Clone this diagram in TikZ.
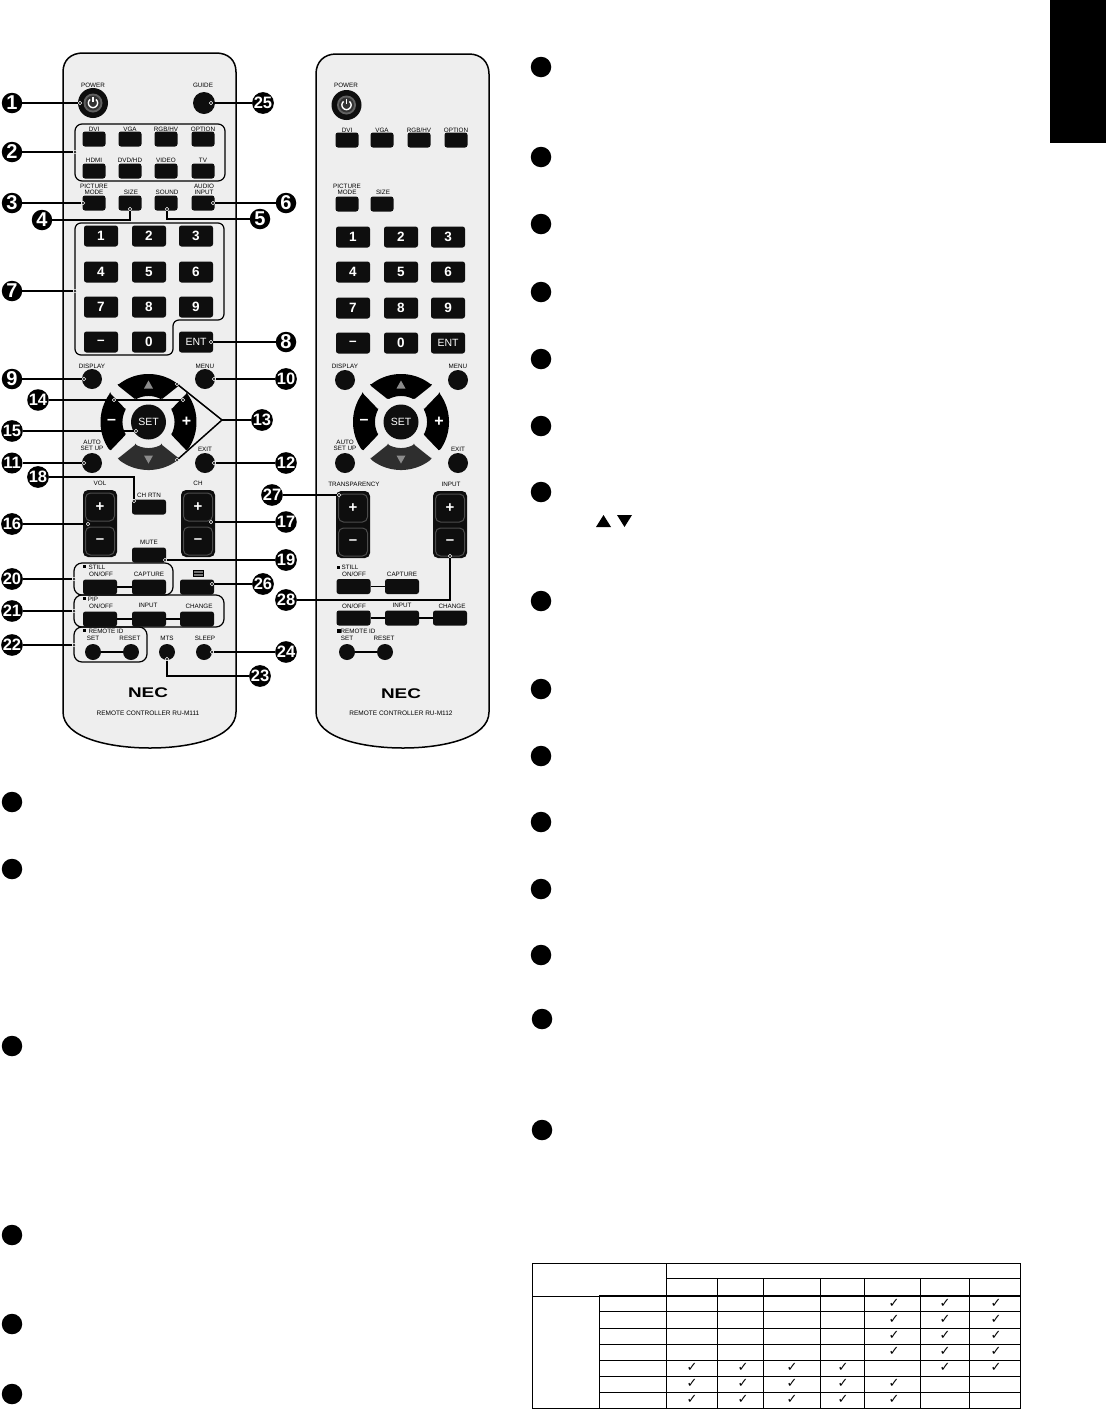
\documentclass[tikz,border=0pt]{standalone}
\usepackage{fontspec}
\setmainfont{Liberation Sans}
\newfontfamily\chkfont{DejaVu Sans}
\newcount\lbn
\newcount\bln
\newcount\ckn
\definecolor{bodyg}{HTML}{EEEEEE}
\definecolor{btnk}{HTML}{0E0E0E}
\tikzset{
  x=1pt,y=-1pt,
  remote/.style={draw=black,line width=1.5pt,fill=bodyg},
  grp/.style={draw=black,line width=1.2pt,rounded corners=8pt},
  lbl/.style={inner sep=0pt,font=\fontsize{6.3}{6.3}\selectfont,text=black},
  keybase/.style={fill=btnk,rounded corners=2.5pt,inner sep=0pt,text=white,font=\bfseries\fontsize{13.5}{13.5}\selectfont},
  sbtn/.style={keybase,minimum width=23pt,minimum height=15pt},
  nbtn/.style={keybase,minimum width=34pt,minimum height=21pt},
  wbtn/.style={keybase,minimum width=34pt,minimum height=15pt},
  rbtn/.style={circle,fill=btnk,inner sep=0pt,minimum size=#1},
  rbtn/.default=20pt,
  rocker/.style={fill=btnk,rounded corners=5pt,inner sep=0pt,minimum width=34pt,minimum height=67pt},
  rockin/.style={draw=black!70,line width=1pt,rounded corners=5pt,inner sep=0pt,minimum width=29pt,minimum height=28pt,text=white,font=\bfseries\fontsize{15}{15}\selectfont},
  call/.style={circle,fill=black,inner sep=0pt,minimum size=20.5pt,text=white,font=\bfseries\fontsize{20}{20}\selectfont},
  calltwo/.style={circle,fill=black,inner sep=0pt,minimum size=21pt,text=white,font=\bfseries\fontsize{16.5}{16.5}\selectfont},
  blank/.style={circle,fill=black,inner sep=0pt,minimum size=20.5pt},
  tipdot/.style={circle,fill=black,draw=white,line width=.5pt,inner sep=0pt,minimum size=3.5pt},
  conn/.style={draw=black,line width=1.5pt},
  link/.style={draw=black,line width=1.3pt},
  tick/.style={inner sep=0pt,font=\chkfont\fontsize{13}{13}\selectfont},
  sign/.style={inner sep=0pt,text=white,font=\bfseries\fontsize{16}{16}\selectfont},
  rule/.style={draw=black,line width=.8pt},
}
\newcommand\lb[3]{\global\advance\lbn 1 \node[lbl] (t\the\lbn) at (#1,#2) {#3};}
\newcommand\bl[2]{\global\advance\bln 1 \node[blank] (b\the\bln) at (#1,#2) {};}
\newcommand\ck[2]{\global\advance\ckn 1 \node[tick] (k\the\ckn) at (#1,#2) {✓};}
\newcommand\co[4]{\node[call] (c#1) at (#2,#3) {#4};}
\newcommand\ct[4]{\node[calltwo] (c#1) at (#2,#3) {#4};}
\newcommand\ds[3]{\node[tipdot] (#1) at (#2,#3) {};}
% sector: centre x, y, outer from/to, inner to/from, fill
\newcommand\sector[7]{\fill[#7,rounded corners=1pt] plot[smooth,domain=#3:#4,samples=16] ({#1+48*cos(\x)},{#2-48*sin(\x)}) -- plot[smooth,domain=#5:#6,samples=12] ({#1+26*cos(\x)},{#2-26*sin(\x)}) -- cycle;}
\newcommand\dpad[3]{%
 \sector{#1}{#2}{50}{130}{120}{60}{black}
 \sector{#1}{#2}{143}{217}{209}{151}{black}
 \sector{#1}{#2}{230}{310}{300}{240}{black!82}
 \sector{#1}{#2}{-37}{37}{29}{-29}{black}
 \fill[black!45] (#1,#2-41.5) -- (#1+4.5,#2-33.5) -- (#1-4.5,#2-33.5) -- cycle;
 \fill[black!45] (#1,#2+41.5) -- (#1+4.5,#2+33.5) -- (#1-4.5,#2+33.5) -- cycle;
 \node[rbtn=35pt,text=white,font=\fontsize{10.5}{10.5}\selectfont] (#3set) at (#1,#2) {SET};
 \node[sign] (#3minus) at (#1-37,#2) {--};
 \node[sign] (#3plus) at (#1+38,#2) {+};
}
\newcommand\powerbtn[3]{%
 \node[rbtn=30pt] (#3) at (#1,#2) {};
 \fill[black!62] (#1,#2) circle[radius=9.5];
 \fill[black!80] (#1,#2) circle[radius=7.5];
 \draw[white,line width=1.4pt] plot[smooth,domain=-50:230,samples=20] ({#1+4.6*cos(\x)},{#2+4.6*sin(\x+180)*-1});
 \draw[white,line width=1.4pt] (#1,#2-6.5) -- (#1,#2-1);
}
\begin{document}
\begin{tikzpicture}
\useasboundingbox (0,0) rectangle (1106,1409);
\fill[white] (0,0) rectangle (1106,1409);
\fill[black] (1050,0) rectangle (1106,143);
% ---------- remote bodies
\draw[remote] (63,72) .. controls (63,60) and (71,53) .. (83,53) -- (216,53) .. controls (228,53) and (236,60) .. (236,72) -- (236,712) .. controls (236,738) and (190,748) .. (150,748) .. controls (110,748) and (63,738) .. (63,712) -- cycle;
\draw[remote] (316,74) .. controls (316,62) and (324,54) .. (336,54) -- (469,54) .. controls (481,54) and (489,62) .. (489,74) -- (489,712) .. controls (489,738) and (443,748) .. (403,748) .. controls (363,748) and (316,738) .. (316,712) -- cycle;
% ---------- left remote: groups
\draw[grp,rounded corners=7pt] (75,124) rectangle (225,181);
\draw[grp,rounded corners=6pt] (75,223) -- (224,223) -- (224,320) -- (173,320) -- (173,355) -- (75,355) -- cycle;
\draw[grp] (74,563) -- (173,563) -- (173,595) -- (74,595) -- cycle;
\draw[grp] (74,595) -- (224,595) -- (224,627) -- (74,627) -- cycle;
\draw[grp] (74,627) -- (147,627) -- (147,662) -- (74,662) -- cycle;
% ---------- left remote: keys
\powerbtn{93}{103}{lpower}
\node[rbtn=22pt] (lguide) at (204,103) {};
\lb{93}{85}{POWER}\lb{203}{85}{GUIDE}
\node[sbtn] (ldvi) at (94,139) {};\node[sbtn] (lvga) at (130,139) {};\node[sbtn] (lrgb) at (166,139) {};\node[sbtn] (lopt) at (203,139) {};
\lb{94}{129}{DVI}\lb{130}{129}{VGA}\lb{166}{129}{RGB/HV}\lb{203}{129}{OPTION}
\node[sbtn] (lhdmi) at (94,171) {};\node[sbtn] (ldvd) at (130,171) {};\node[sbtn] (lvid) at (166,171) {};\node[sbtn] (ltv) at (203,171) {};
\lb{94}{160}{HDMI}\lb{130}{160}{DVD/HD}\lb{166}{160}{VIDEO}\lb{203}{160}{TV}
\node[sbtn] (lpic) at (94,203) {};\node[sbtn] (lsize) at (130,203) {};\node[sbtn] (lsound) at (166,203) {};\node[sbtn] (laud) at (203,203) {};
\lb{94}{186}{PICTURE}\lb{94}{192}{MODE}\lb{131}{192}{SIZE}\lb{167}{192}{SOUND}\lb{204}{186}{AUDIO}\lb{204}{192}{INPUT}
\node[nbtn] (ln1) at (101,236) {1};\node[nbtn] (ln2) at (149,236) {2};\node[nbtn] (ln3) at (196,236) {3};
\node[nbtn] (ln4) at (101,272) {4};\node[nbtn] (ln5) at (149,272) {5};\node[nbtn] (ln6) at (196,272) {6};
\node[nbtn] (ln7) at (101,307) {7};\node[nbtn] (ln8) at (149,307) {8};\node[nbtn] (ln9) at (196,307) {9};
\node[nbtn] (lnm) at (101,342) {--};\node[nbtn] (ln0) at (149,342) {0};
\node[nbtn,font=\fontsize{10.5}{10.5}\selectfont] (lent) at (196,342) {ENT};
\node[rbtn] (ldisp) at (92,379) {};\node[rbtn] (lmenu) at (205,379) {};\node[rbtn] (lauto) at (92,463) {};\node[rbtn] (lexit) at (205,463) {};
\lb{92}{366}{DISPLAY}\lb{205}{366}{MENU}\lb{92}{442}{AUTO}\lb{92}{448}{SET UP}\lb{205}{449}{EXIT}
\dpad{148.5}{422}{l}
\node[wbtn] (lchrtn) at (149,507) {};\lb{149}{495}{CH RTN}
\node[rocker] (lvol) at (100,523.5) {};\node[rockin] (lvolp) at (100,507) {+};\node[rockin] (lvolm) at (100,541) {--};
\node[rocker] (lch) at (198,523.5) {};\node[rockin] (lchp) at (198,507) {+};\node[rockin] (lchm) at (198,541) {--};
\lb{100}{483}{VOL}\lb{198}{483}{CH}
\node[wbtn] (lmute) at (149,555) {};\lb{149}{542}{MUTE}
\fill[black] (82.5,565) rectangle (85.5,568);\lb{97}{567}{STILL}\lb{101}{574}{ON/OFF}\lb{149}{574}{CAPTURE}
\node[wbtn] (lstill) at (100,587) {};\node[wbtn] (lcap) at (149,587) {};\draw[link] (lstill) -- (lcap);
\fill[black!55,draw=black,line width=.8pt] (193,570) rectangle (203,576);\draw[black,line width=.6pt] (193,573) -- (203,573);
\node[wbtn] (ltele) at (197,587) {};
\fill[black] (82.5,597) rectangle (85.5,600);\lb{93}{599}{PIP}\lb{101}{606}{ON/OFF}\lb{148}{605}{INPUT}\lb{199}{606}{CHANGE}
\node[wbtn] (lpip) at (100,619) {};\node[wbtn] (linp) at (149,619) {};\node[wbtn] (lchg) at (197,619) {};\draw[link] (lpip) -- (linp) -- (lchg);
\fill[black] (82.5,629) rectangle (85.5,632);\lb{106}{631}{REMOTE ID}\lb{93}{638}{SET}\lb{130}{638}{RESET}
\node[rbtn=16pt] (lset) at (93,652) {};\node[rbtn=16pt] (lrst) at (131,652) {};\draw[link] (lset) -- (lrst);
\node[rbtn=16pt] (lmts) at (167,652) {};\node[rbtn=16pt] (lslp) at (204,652) {};
\lb{167}{638}{MTS}\lb{205}{638}{SLEEP}
\node[inner sep=0pt,font=\bfseries\fontsize{14}{14}\selectfont,xscale=1.35] (lnec) at (148,693) {NEC};
\node[lbl,font=\fontsize{6.5}{6.5}\selectfont] (lmodel) at (148,713) {REMOTE CONTROLLER RU-M111};
% ---------- right remote: keys
\powerbtn{346.5}{105}{rpower}\lb{346}{85}{POWER}
\node[sbtn] (rdvi) at (347,140) {};\node[sbtn] (rvga) at (382,140) {};\node[sbtn] (rrgb) at (419,140) {};\node[sbtn] (ropt) at (456,140) {};
\lb{347}{130}{DVI}\lb{382}{130}{VGA}\lb{419}{130}{RGB/HV}\lb{456}{130}{OPTION}
\node[sbtn] (rpic) at (347,204) {};\node[sbtn] (rsize) at (382,204) {};
\lb{347}{186}{PICTURE}\lb{347}{192}{MODE}\lb{383}{192}{SIZE}
\node[nbtn] (rn1) at (353,237) {1};\node[nbtn] (rn2) at (401,237) {2};\node[nbtn] (rn3) at (448,237) {3};
\node[nbtn] (rn4) at (353,272) {4};\node[nbtn] (rn5) at (401,272) {5};\node[nbtn] (rn6) at (448,272) {6};
\node[nbtn] (rn7) at (353,308) {7};\node[nbtn] (rn8) at (401,308) {8};\node[nbtn] (rn9) at (448,308) {9};
\node[nbtn] (rnm) at (353,343) {--};\node[nbtn] (rn0) at (401,343) {0};
\node[nbtn,font=\fontsize{10.5}{10.5}\selectfont] (rent) at (448,343) {ENT};
\node[rbtn] (rdisp) at (345,380) {};\node[rbtn] (rmenu) at (458,380) {};\node[rbtn] (rauto) at (345,463) {};\node[rbtn] (rexit) at (458,463) {};
\lb{345}{366}{DISPLAY}\lb{458}{366}{MENU}\lb{345}{442}{AUTO}\lb{345}{448}{SET UP}\lb{458}{449}{EXIT}
\dpad{401}{422}{r}
\node[rocker] (rtr) at (353,524.5) {};\node[rockin] (rtrp) at (353,508) {+};\node[rockin] (rtrm) at (353,542) {--};
\node[rocker] (rin) at (450,524.5) {};\node[rockin] (rinp) at (450,508) {+};\node[rockin] (rinm) at (450,542) {--};
\lb{354}{484}{TRANSPARENCY}\lb{451}{484}{INPUT}
\fill[black] (336.5,565.5) rectangle (339.5,568.5);\lb{350}{567}{STILL}\lb{354}{574}{ON/OFF}\lb{402}{574}{CAPTURE}
\node[wbtn] (rstill) at (353.5,586.5) {};\node[wbtn] (rcap) at (402,586.5) {};\draw[link] (rstill) -- (rcap);
\lb{354}{606}{ON/OFF}\lb{402}{605}{INPUT}\lb{452}{606}{CHANGE}
\node[wbtn] (rpip) at (353.5,618) {};\node[wbtn] (rinp) at (402,618) {};\node[wbtn] (rchg) at (450,618) {};\draw[link] (rpip) -- (rinp) -- (rchg);
\fill[black] (336.5,629) rectangle (340.5,633);\lb{358}{631}{REMOTE ID}\lb{347}{638}{SET}\lb{384}{638}{RESET}
\node[rbtn=16pt] (rset) at (347,652) {};\node[rbtn=16pt] (rrst) at (385,652) {};\draw[link] (rset) -- (rrst);
\node[inner sep=0pt,font=\bfseries\fontsize{14}{14}\selectfont,xscale=1.35] (rnec) at (401,694) {NEC};
\node[lbl,font=\fontsize{6.5}{6.5}\selectfont] (rmodel) at (401,713) {REMOTE CONTROLLER RU-M112};
% ---------- callouts
\co{1}{12}{103}{1}\co{2}{12}{152}{2}\co{3}{12}{203}{3}\co{4}{42}{220}{4}\co{5}{260}{219}{5}\co{6}{286}{203}{6}\co{7}{12}{291}{7}\co{8}{286}{342}{8}\co{9}{12}{379}{9}
\ct{10}{286}{379}{10}\ct{11}{12}{463}{11}\ct{12}{286}{463}{12}\ct{13}{262}{420}{13}\ct{14}{38}{400}{14}\ct{15}{12}{431}{15}\ct{16}{12}{524}{16}\ct{17}{286}{522}{17}\ct{18}{38}{477}{18}\ct{19}{286}{560}{19}\ct{20}{12}{579}{20}\ct{21}{12}{611}{21}\ct{22}{12}{645}{22}\ct{23}{260}{676}{23}\ct{24}{286}{652}{24}\ct{25}{263}{103}{25}\ct{26}{263}{584}{26}\ct{27}{272}{495}{27}\ct{28}{286}{600}{28}
% ---------- connector ends
\ds{d1}{80}{103}\ds{d2}{75}{152}\ds{d3}{83}{203}\ds{d4}{130}{209}\ds{d5}{167}{209}\ds{d6}{213}{203}\ds{d7}{75}{291}\ds{d8}{211}{342}\ds{d9}{84}{379}\ds{d10}{214}{379}\ds{d11}{84}{463}\ds{d12}{214}{463}
\ds{d13a}{177}{384}\ds{d13b}{177}{460}\ds{d14a}{114}{400}\ds{d14b}{183}{400}\ds{d15}{136}{431}\ds{d16}{88}{524}\ds{d17}{211}{522}\ds{d18}{134}{501}\ds{d19}{165}{560}
\ds{d20}{74}{579}\ds{d21}{74}{611}\ds{d22}{74}{645}\ds{d23}{167}{659}\ds{d24}{212}{652}\ds{d25}{211}{103}\ds{d26}{212}{584}\ds{d27}{339}{495}\ds{d28}{450}{556}
\coordinate (j13) at (222,420);
\coordinate (j18) at (134,477);
\begin{scope}[conn]
\draw (c1) -- (d1);\draw (c2) -- (d2);\draw (c3) -- (d3);\draw (c4) -| (d4);\draw (c5) -| (d5);\draw (c6) -- (d6);\draw (c7) -- (d7);\draw (c8) -- (d8);\draw (c9) -- (d9);\draw (c10) -- (d10);\draw (c11) -- (d11);\draw (c12) -- (d12);
\draw (c13) -- (j13);\draw (j13) -- (d13a);\draw (j13) -- (d13b);
\draw (c14) -- (d14a);\draw (d14a) -- (d14b);\draw (c15) -- (d15);\draw (c16) -- (d16);\draw (c17) -- (d17);
\draw (c18) -- (j18) -- (d18);\draw (c19) -- (d19);\draw (c20) -- (d20);\draw (c21) -- (d21);\draw (c22) -- (d22);\draw (c23) -| (d23);\draw (c24) -- (d24);\draw (c25) -- (d25);\draw (c26) -- (d26);\draw (c27) -- (d27);\draw (c28) -| (d28);
\end{scope}
% ---------- blank bullets
\bl{12}{802}\bl{12}{869}\bl{12}{1046}\bl{12}{1235}\bl{12}{1324}\bl{12}{1394}
\bl{541}{67}\bl{541}{157}\bl{541}{224}\bl{541}{292}\bl{541}{359}\bl{541}{426}\bl{541}{492}\bl{541}{601}\bl{541}{689}\bl{541}{756}\bl{541}{822}\bl{541}{889}\bl{541}{955}\bl{542}{1019}\bl{542}{1130}
\fill[black] (603.5,515) -- (611,527) -- (596,527) -- cycle;
\fill[black] (617,515) -- (632,515) -- (624.5,527) -- cycle;
% ---------- table
\draw[rule] (532,1263) rectangle (1020,1408);
\draw[rule] (666,1278) -- (1020,1278);
\draw[rule] (532,1296) -- (599,1296);
\draw[line width=1.5pt] (599,1296) -- (1020,1296);
\foreach \yy in {1311,1328,1344,1360,1376,1392} \draw[rule] (599,\yy) -- (1020,\yy);
\draw[rule] (599,1296) -- (599,1408);
\draw[rule] (666,1263) -- (666,1408);
\foreach \xx in {717,763,820,864,920,969} \draw[rule] (\xx,1278) -- (\xx,1408);
\foreach \yy in {1303,1319,1335,1351}{\ck{894}{\yy}\ck{945}{\yy}\ck{996}{\yy}}
\foreach \xx in {692,743,792,843,945,996}{\ck{\xx}{1367}}
\foreach \yy in {1383,1399}{\foreach \xx in {692,743,792,843,894}{\ck{\xx}{\yy}}}
\end{tikzpicture}
\end{document}
